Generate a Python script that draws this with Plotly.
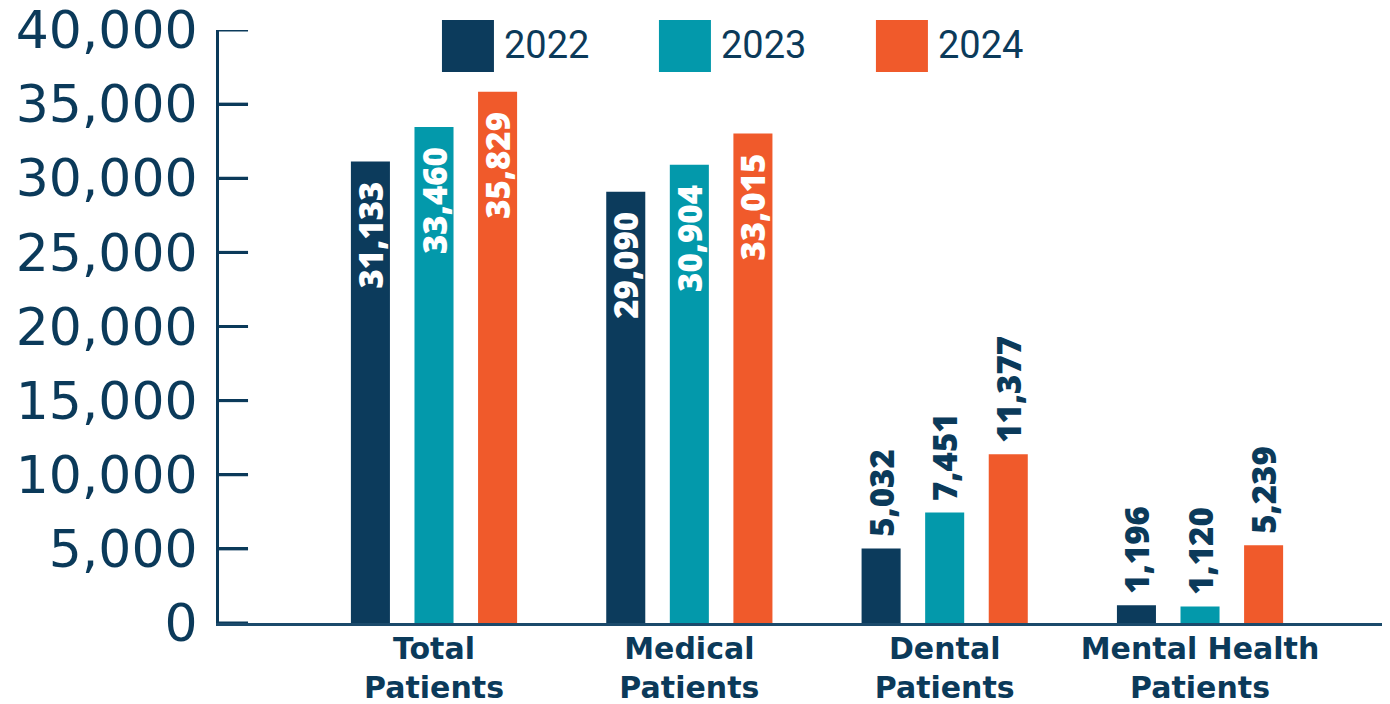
import plotly.graph_objects as go

categories = ["Total<br>Patients", "Medical<br>Patients", "Dental<br>Patients", "Mental Health<br>Patients"]
years = ["2022", "2023", "2024"]
values_2022 = [31133, 29090, 5032, 1196]
values_2023 = [33460, 30904, 7451, 1120]
values_2024 = [35829, 33015, 11377, 5239]
colors = ["#0c3b5c", "#0399ab", "#f05a2b"]
label_inside = [True, True, False, False]
y_ticks = [0, 5000, 10000, 15000, 20000, 25000, 30000, 35000, 40000]

NAVY = "#0b3a5a"
LABEL_FONT = "Open Sans"
NB = "\u00a0"

fig = go.Figure()
for yr, vals, col in zip(years, [values_2022, values_2023, values_2024], colors):
    texts = [(f"{v:,}" + NB * 2) if ins else (NB + f"{v:,}") for v, ins in zip(vals, label_inside)]
    fig.add_trace(go.Bar(
        x=categories, y=vals, name=yr, marker_color=col, marker_line_width=0,
        text=texts,
        textposition=["inside" if i else "outside" for i in label_inside],
        textangle=-90,
        insidetextanchor="end",
        insidetextfont=dict(family=LABEL_FONT, size=33, color="white", weight=800),
        outsidetextfont=dict(family=LABEL_FONT, size=33, color=NAVY, weight=800),
        cliponaxis=False,
        showlegend=False,
    ))

# inward tick marks on the value axis
for t in y_ticks:
    fig.add_shape(type="line", xref="paper", yref="y", x0=0, x1=0.0248, y0=t, y1=t,
                  line=dict(color=NAVY, width=3), layer="above")

# manual legend (large swatches)
x0 = 0.1904
step = 0.1853
for i, (yr, col) in enumerate(zip(years, colors)):
    xs = x0 + i * step
    fig.add_shape(type="rect", xref="paper", yref="paper",
                  x0=xs, x1=xs + 0.0444, y0=0.9292, y1=1.0169,
                  fillcolor=col, line_width=0)
    fig.add_annotation(xref="paper", yref="paper", x=xs + 0.0512, y=0.974,
                       xanchor="left", yanchor="middle", text=yr, showarrow=False,
                       font=dict(family="Roboto", size=38, color=NAVY))

fig.update_layout(
    width=1390, height=704,
    margin=dict(l=211, r=8, t=22, b=89),
    plot_bgcolor="white", paper_bgcolor="white",
    barmode="group", bargap=0.253, bargroupgap=0.386,
)
fig.update_traces(constraintext="none")
fig.update_xaxes(
    range=[-0.842, 3.744], automargin=False,
    showline=True, linecolor="#1b4a6b", linewidth=3,
    ticks="", showgrid=False, ticklabelstandoff=-3,
    tickfont=dict(family="DejaVu Sans", size=30, color=NAVY, weight="bold"),
)
fig.update_yaxes(
    range=[0, 40000], tickvals=y_ticks, tickformat=",", automargin=False,
    showline=True, linecolor=NAVY, linewidth=3,
    ticks="inside", ticklen=29, tickwidth=3, tickcolor=NAVY,
    showgrid=False, zeroline=False,
    ticklabelstandoff=8, ticklabeloverflow="allow",
    tickfont=dict(family="DejaVu Sans", size=52, color=NAVY),
)

fig.write_html("out.html")
